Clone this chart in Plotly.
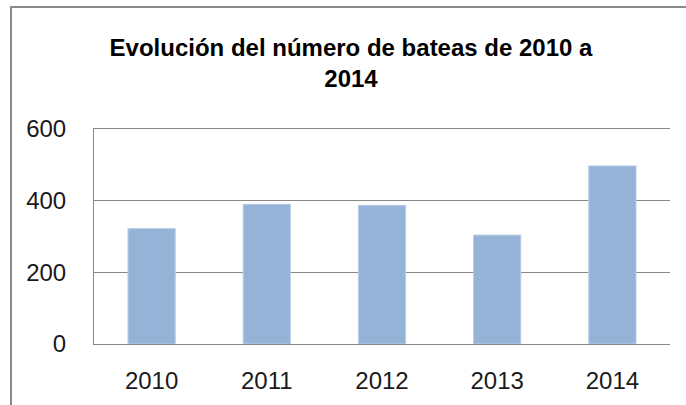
import plotly.graph_objects as go

years = ["2010", "2011", "2012", "2013", "2014"]
bateas = [322, 390, 387, 304, 497]
y_ticks = [0, 200, 400, 600]
title_text = "Evolución del número de bateas de 2010 a<br>2014"

W, H = 686, 405
L, R, T, B = 94, 16, 129, 61
pw = W - L - R
ph = H - T - B

fig = go.Figure(
    go.Bar(
        x=years,
        y=bateas,
        marker=dict(color="#95B3D7", line=dict(color="#B9CDE5", width=1)),
        hoverinfo="x+y",
    )
)

fig.update_layout(
    width=W,
    height=H,
    margin=dict(l=L, r=R, t=T, b=B, pad=0),
    paper_bgcolor="white",
    plot_bgcolor="white",
    bargap=0.59,
    showlegend=False,
    font=dict(family="Liberation Sans, Arial, sans-serif", size=24, color="#1a1a1a"),
    title=dict(
        text=title_text,
        font=dict(family="Liberation Sans, Arial, sans-serif", size=24, color="#000000", weight="bold"),
        x=351 / W,
        xref="container",
        xanchor="center",
        y=1 - 56 / H,
        yref="container",
        yanchor="middle",
    ),
    xaxis=dict(
        showgrid=False,
        showline=True,
        mirror=True,
        linecolor="#868686",
        linewidth=1,
        ticks="",
        ticklabelstandoff=15,
        tickfont=dict(size=24, color="#1a1a1a"),
    ),
    yaxis=dict(
        range=[0, 600],
        tickvals=y_ticks,
        showgrid=True,
        gridcolor="#868686",
        gridwidth=1,
        showline=True,
        linecolor="#868686",
        linewidth=1,
        zeroline=False,
        ticks="",
        ticklabelstandoff=22,
        tickfont=dict(size=24, color="#1a1a1a"),
    ),
    shapes=[
        dict(
            type="rect",
            xref="paper",
            yref="paper",
            x0=(11 - L) / pw,
            x1=(W + 20 - L) / pw,
            y0=-(H + 20 - (T + ph)) / ph,
            y1=1 + (T - 7) / ph,
            line=dict(color="#8A8A8A", width=2),
            fillcolor="rgba(0,0,0,0)",
            layer="below",
        )
    ],
)

fig.write_html(
    "out.html",
    config={"displayModeBar": False},
    post_script="document.body.style.margin='0';document.body.style.overflow='hidden';",
)
